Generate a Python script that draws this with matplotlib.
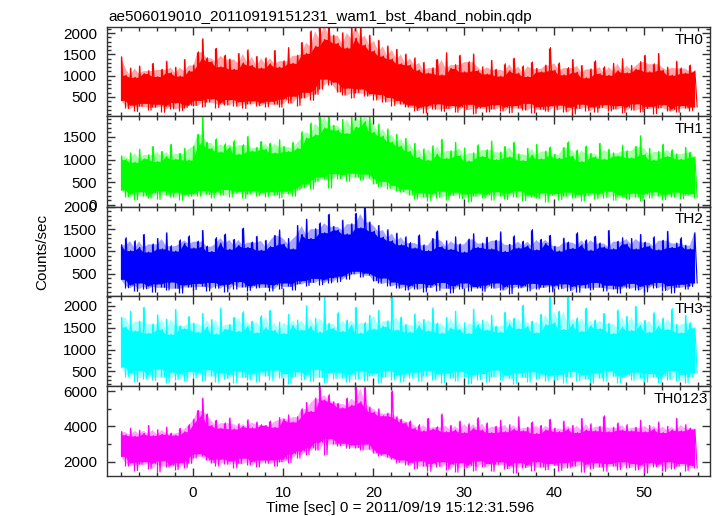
import numpy as np
import matplotlib.pyplot as plt
from matplotlib.ticker import MultipleLocator
from numpy.lib.stride_tricks import sliding_window_view

plt.rcParams['font.family'] = ['Liberation Sans', 'DejaVu Sans']

## light curve: per 0.5 s bin, the highest and lowest sample (counts/sec)
t0 = -8.0
dt = 0.5

th0_hi = [1440, 1010, 1180, 960, 1230, 1050, 1120, 1290, 980, 1150, 1340, 1070, 1200, 990, 1380, 1110,
          1250, 1560, 1870, 1420, 1330, 1640, 1210, 1480, 1390, 1150, 1520, 1300, 1610, 1240, 1450, 1180,
          1420, 1280, 1590, 1200, 1350, 1660, 1290, 1480, 1780, 1520, 2050, 1690, 2200, 1850, 2200, 1950,
          1760, 2010, 1650, 2200, 1880, 2200, 1720, 1950, 1580, 1830, 1460, 1700, 1390, 1620, 1280, 1510,
          1250, 1420, 1130, 1310, 1060, 1190, 1380, 1020, 1540, 1170, 1260, 1480, 1090, 1330, 1510, 1120,
          1210, 1040, 1360, 1150, 990, 1280, 1120, 1410, 1060, 1230, 980, 1320, 1170, 1090, 1250, 1660,
          1130, 1300, 1020, 1190, 1380, 1080, 1240, 950, 1160, 1350, 1050, 1210, 1010, 1290, 1120, 1400,
          1070, 1240, 1150, 1330, 1480, 1090, 1280, 1520, 1130, 1200, 1010, 1340, 1180, 1060, 1250, 1110]
th0_lo = [420, 230, 310, 160, 280, 350, 190, 260, 330, 140, 290, 220, 370, 180, 250, 310,
          300, 420, 270, 380, 460, 250, 350, 310, 440, 280, 390, 230, 340, 410, 290, 360,
          270, 400, 330, 260, 450, 350, 520, 300, 480, 610, 420, 560, 680, 920, 780, 850,
          620, 540, 710, 480, 600, 690, 520, 580, 430, 560, 380, 490, 300, 420, 340, 260,
          310, 180, 250, 120, 290, 210, 340, 160, 230, 300, 140, 270, 200, 330, 110, 240,
          280, 150, 220, 320, 170, 260, 130, 300, 240, 190, 350, 120, 270, 210, 160, 290,
          200, 310, 150, 260, 100, 230, 330, 180, 270, 140, 250, 320, 170, 220, 300, 130,
          260, 190, 340, 150, 230, 280, 110, 250, 320, 170, 210, 140, 300, 240, 180, 270]

th1_hi = [1080, 1000, 1150, 940, 1230, 1020, 1110, 1290, 960, 1180, 1070, 1340, 1010, 1140, 1250, 990,
          1300, 1560, 1940, 1380, 1250, 1460, 1170, 1350, 1280, 1420, 1120, 1330, 1510, 1190, 1270, 1400,
          1230, 1360, 1150, 1440, 1290, 1180, 1380, 1250, 1620, 1480, 1810, 1550, 1970, 1700, 1970, 1760,
          1650, 1890, 1580, 1970, 1720, 1970, 1840, 1970, 1600, 1790, 1520, 1680, 1390, 1560, 1300, 1470,
          1180, 1360, 1050, 1240, 990, 1310, 1120, 1450, 1030, 1200, 1380, 1090, 1260, 970, 1150, 1330,
          1070, 1220, 1410, 1000, 1170, 1290, 1060, 1380, 1130, 980, 1250, 1100, 1340, 1020, 1190, 1280,
          1120, 1030, 1270, 1390, 1080, 1210, 960, 1300, 1140, 1060, 1360, 1010, 1230, 1150, 1080, 1320,
          1200, 1040, 1290, 1530, 1110, 1250, 990, 1180, 1340, 1070, 1220, 1130, 1010, 1270, 1160, 1060]
th1_lo = [330, 180, 240, 110, 290, 200, 150, 260, 120, 310, 220, 170, 280, 100, 230, 190,
          250, 190, 320, 230, 150, 280, 210, 340, 170, 260, 300, 140, 240, 310, 200, 270,
          180, 290, 220, 160, 300, 250, 190, 330, 380, 460, 350, 510, 620, 560, 370, 690,
          580, 660, 520, 700, 610, 540, 680, 590, 470, 400, 520, 360, 430, 310, 280, 350,
          220, 130, 270, 180, 90, 250, 160, 300, 110, 210, 280, 140, 240, 70, 190, 260,
          150, 230, 100, 290, 200, 120, 260, 170, 310, 90, 220, 180, 140, 270, 60, 210,
          250, 110, 190, 280, 150, 230, 80, 200, 270, 130, 240, 160, 300, 100, 220, 170,
          120, 260, 180, 90, 240, 150, 290, 200, 110, 230, 170, 280, 130, 210, 250, 160]

th2_hi = [1150, 1310, 1020, 1240, 1090, 1380, 990, 1170, 1290, 1060, 1420, 1130, 1010, 1260, 1180, 1350,
          1080, 1230, 1470, 1120, 1000, 1310, 1190, 1390, 1050, 1270, 1140, 1520, 1090, 1210, 1340, 1030,
          1250, 1110, 1360, 1480, 1170, 1290, 1060, 1580, 1380, 1720, 1290, 1510, 1640, 1420, 1830, 1560,
          1480, 1700, 1390, 1620, 1850, 1530, 1990, 1660, 1450, 1580, 1320, 1490, 1240, 1410, 1150, 1330,
          1200, 1080, 1370, 1150, 1020, 1290, 1460, 1110, 1240, 1050, 1330, 1170, 990, 1280, 1400, 1090,
          1190, 1320, 1060, 1250, 1440, 1000, 1160, 1350, 1080, 1230, 1130, 1490, 1040, 1270, 1180, 1360,
          1120, 1010, 1300, 1210, 1070, 1420, 1150, 1260, 1030, 1340, 1190, 1100, 1470, 1060, 1230, 1310,
          1170, 1290, 1060, 1380, 1210, 1120, 1330, 1040, 1250, 1450, 1090, 1190, 1310, 1140, 1060, 1420]
th2_lo = [380, 190, 250, 110, 300, 170, 230, 90, 280, 200, 140, 320, 180, 70, 260, 210,
          150, 290, 220, 120, 310, 180, 250, 100, 270, 160, 330, 210, 130, 240, 190, 280,
          200, 120, 260, 170, 300, 220, 140, 280, 350, 240, 310, 400, 260, 370, 300, 420,
          330, 450, 380, 500, 560, 430, 520, 470, 350, 290, 410, 230, 320, 180, 270, 140,
          230, 160, 290, 100, 200, 260, 130, 310, 180, 80, 240, 170, 300, 120, 220, 190,
          110, 250, 180, 300, 140, 210, 60, 270, 190, 230, 120, 290, 160, 200, 260, 100,
          240, 170, 280, 130, 220, 90, 260, 190, 150, 310, 200, 120, 250, 170, 70, 230,
          180, 290, 140, 220, 100, 260, 190, 310, 130, 240, 80, 200, 270, 160, 220, 300]

th3_hi = [1740, 1520, 1880, 1430, 1650, 1970, 1380, 1590, 1800, 1460, 1700, 1350, 1920, 1550, 1480, 1760,
          1610, 1400, 1830, 1520, 1690, 1360, 1950, 1470, 1580, 1740, 1420, 1870, 1530, 1650, 1390, 1780,
          1500, 1900, 1440, 1630, 1370, 1810, 1560, 1680, 1450, 2010, 1530, 1720, 1400, 2200, 1600, 1490,
          1850, 1420, 1680, 1560, 1970, 1380, 1620, 1790, 1470, 1900, 1530, 1660, 2200, 1450, 1750, 1580,
          1400, 1820, 1550, 1690, 1430, 1960, 1610, 1380, 1740, 1500, 1880, 1460, 1620, 1370, 1930, 1570,
          1680, 1450, 1790, 1540, 1400, 1860, 1590, 1720, 1480, 2020, 1530, 1650, 1390, 1810, 1570, 2200,
          1620, 1880, 1460, 2200, 1590, 1730, 1420, 1950, 1550, 1680, 1480, 1830, 1600, 1370, 1910, 1520,
          1760, 1440, 1990, 1560, 1670, 1400, 1850, 1530, 1720, 1460, 1940, 1580, 1390, 1790, 1620, 1500]
th3_lo = [600, 380, 450, 260, 520, 330, 410, 290, 560, 370, 240, 480, 310, 430, 270, 500,
          350, 460, 280, 540, 390, 250, 470, 330, 420, 230, 510, 360, 300, 440, 260, 490,
          400, 290, 530, 340, 450, 220, 380, 490, 310, 420, 270, 550, 360, 240, 470, 330,
          480, 350, 250, 430, 320, 510, 280, 400, 460, 230, 370, 520, 300, 410, 260, 440,
          340, 480, 270, 390, 520, 300, 430, 240, 460, 350, 280, 500, 380, 220, 420, 310,
          450, 260, 380, 530, 290, 410, 340, 220, 470, 360, 250, 490, 320, 440, 280, 400,
          300, 430, 240, 370, 500, 280, 420, 330, 230, 460, 350, 270, 510, 390, 240, 360,
          420, 290, 480, 340, 250, 450, 370, 230, 400, 310, 520, 280, 430, 240, 360, 470]

th0123_hi = [3700, 3520, 3900, 3450, 3780, 3600, 4050, 3480, 3820, 3550, 3960, 3620, 3500, 3880, 3700, 4100,
             4400, 4900, 5600, 4700, 4050, 4350, 3900, 4200, 4480, 3850, 4150, 4000, 4380, 3920, 4250, 4100,
             4050, 4300, 3950, 4500, 4400, 4650, 4250, 4550, 5000, 5350, 4850, 5600, 6200, 5500, 5800, 5400,
             5300, 5050, 5600, 5200, 6200, 5400, 6250, 5100, 4800, 5000, 4600, 4750, 6000, 4550, 4400, 4200,
             4300, 3900, 4100, 3750, 4450, 3850, 3980, 4700, 3700, 4050, 3800, 4300, 3650, 4150, 3900, 4500,
             3800, 4200, 3650, 4000, 4350, 3700, 4100, 3850, 4550, 3750, 3950, 4250, 3600, 4050, 3800, 4400,
             3900, 3700, 4300, 3850, 4050, 3650, 4450, 3800, 4150, 3750, 4000, 4600, 3700, 3950, 4200, 3800,
             4100, 3750, 3950, 4350, 3700, 4050, 3850, 4250, 3650, 4000, 3800, 4450, 3750, 4100, 3900, 3850]
th0123_lo = [2300, 1750, 1950, 1500, 1850, 2000, 1600, 1900, 1420, 2050, 1700, 1800, 1550, 1950, 1650, 1900,
             2200, 2450, 2300, 2100, 1950, 1750, 2150, 1850, 2050, 1650, 1900, 2200, 1800, 2000, 1700, 2100,
             1900, 2100, 1750, 2000, 2150, 1950, 2450, 2200, 2600, 2400, 2800, 2650, 3100, 2400, 3300, 3000,
             2900, 3050, 2750, 2950, 2800, 2650, 3000, 2700, 2500, 2350, 2450, 2250, 2150, 1950, 2100, 1800,
             1950, 1600, 2050, 1750, 1450, 1900, 1700, 2000, 1550, 1850, 1400, 1950, 1650, 1800, 1500, 2050,
             1700, 1900, 1450, 1850, 2000, 1600, 1750, 1350, 1950, 1650, 1800, 1500, 2000, 1700, 1550, 1900,
             1800, 1500, 1950, 1650, 1750, 2050, 1400, 1850, 1600, 1950, 1700, 1450, 1900, 1750, 1550, 2000,
             1650, 1900, 1550, 1800, 1350, 1950, 1700, 1850, 1450, 2000, 1600, 1750, 1900, 1500, 1800, 1650]

names = ["TH0", "TH1", "TH2", "TH3", "TH0123"]
highs = [th0_hi, th1_hi, th2_hi, th3_hi, th0123_hi]
lows = [th0_lo, th1_lo, th2_lo, th3_lo, th0123_lo]
colors = ["#ff0000", "#00ff00", "#0000ff", "#00ffff", "#ff00ff"]
ylims = [(54, 2134), (-37, 1963), (8, 2003), (163, 2229), (1190, 6283)]
ymajor = [500, 500, 500, 500, 2000]
yminor = [100, 100, 100, 100, 1000]
label_x = [0.9884, 0.9884, 0.9884, 0.9884, 0.9967]

W, H = 717, 516
fig = plt.figure(figsize=(W/100, H/100), dpi=100)

left, right = 107, 710
edges = [27.3, 116, 206.5, 296, 386, 476]  # panel borders in pixels from top


def window(a, fn):
    # running statistic over 3 neighbouring bins
    p = np.pad(a, 1, mode='edge')
    return fn(sliding_window_view(p, 3), axis=1)


for k in range(5):
    top, bot = edges[k], edges[k+1]
    ax = fig.add_axes([left/W, 1 - bot/H, (right-left)/W, (bot-top)/H])
    hi = np.array(highs[k], dtype=float)
    lo = np.array(lows[k], dtype=float)
    t = t0 + dt*np.arange(len(hi))

    # faint halo where the many thin spikes overlap, then the dense core
    ax.fill_between(t, window(lo, np.median), window(hi, np.median),
                    color=colors[k], alpha=0.35, lw=0)
    ax.fill_between(t, window(lo, np.max), window(hi, np.min), color=colors[k], lw=0)
    # spikes: vertical strokes per bin plus the zigzag through them
    ax.vlines(t, lo, hi, color=colors[k], lw=0.9)
    x = np.column_stack([t + dt/4, t + 3*dt/4]).ravel()
    y = np.column_stack([hi, lo]).ravel()
    ax.plot(x, y, color=colors[k], lw=0.8)

    ax.set_xlim(-9.5, 57.3)
    ax.set_ylim(*ylims[k])
    ax.xaxis.set_major_locator(MultipleLocator(10))
    ax.xaxis.set_minor_locator(MultipleLocator(2))
    ax.yaxis.set_major_locator(MultipleLocator(ymajor[k]))
    ax.yaxis.set_minor_locator(MultipleLocator(yminor[k]))
    ax.tick_params(which='both', direction='in', top=True, right=True,
                   color='#333333', width=1.0, labelsize=11, pad=7)
    ax.tick_params(which='major', length=6)
    ax.tick_params(which='minor', length=3)
    for s in ax.spines.values():
        s.set_linewidth(1.0)
        s.set_color('#333333')
    if k < 4:
        ax.tick_params(labelbottom=False)
    ax.text(label_x[k], 0.815, names[k], transform=ax.transAxes,
            ha='right', va='baseline', fontsize=11)

fig.text(108/W, 1 - 20.7/H, "ae506019010_20110919151231_wam1_bst_4band_nobin.qdp",
         ha='left', va='baseline', fontsize=11)
fig.text(42/W, 1 - 251.5/H, "Counts/sec", rotation=90, ha='center', va='center', fontsize=11)
fig.text(400/W, 1 - 508/H, "Time [sec] 0 = 2011/09/19 15:12:31.596",
         ha='center', va='center', fontsize=11)

fig.savefig("out.png", dpi=100)
